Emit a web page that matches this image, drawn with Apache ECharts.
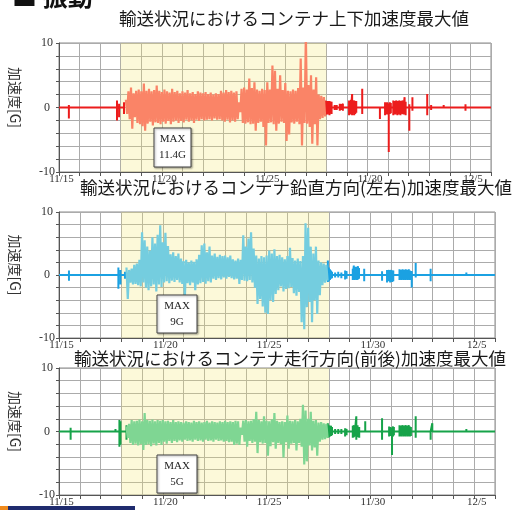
<!DOCTYPE html>
<html><head><meta charset="utf-8">
<script src="https://cdn.jsdelivr.net/npm/echarts@6/dist/echarts.min.js"></script>
<style>html,body{margin:0;padding:0;background:#fff}#c{width:517px;height:510px}</style>
</head><body><div id="c"></div>
<script>
// ---- axis / label data ----
const xTickLabels = ['11/15', '11/20', '11/25', '11/30', '12/5'];
const xLabelEvery = 5;           // days between date labels
const dayMin = 0, dayMax = 21;   // days counted from 11/15
const yTickLabels = [-10, 0, 10];
const yellowSpan = [3, 13];      // highlighted transport period (days)
const headerText = '■ 振動';
const titles = [
  '輸送状況におけるコンテナ上下加速度最大値',
  '輸送状況におけるコンテナ鉛直方向(左右)加速度最大値',
  '輸送状況におけるコンテナ走行方向(前後)加速度最大値'
];
const maxLabels = ['MAX\n11.4G', 'MAX\n9G', 'MAX\n5G'];
const yName = '加速度[G]';

// ---- dense (highlighted) period: max / min per 3-hour bucket ----
const denseStart = 3.25, denseStep = 0.125;
const p1Hi = [1.2,2.5,3.1,2.2,2.6,2.8,2.5,3.7,2.6,2.9, 2.5,2.7,3.4,2.6,2.4,2.8,2.5,2.3,2.9,2.4,
  2.6,2.2,2.5,2.3,2.7,2.2,2.4,2.1,2.5,2.3, 2.2,2.4,2.1,2.3,2.0,2.2,2.1,2.6,2.3,2.7,
  2.4,2.6,2.3,2.5,0.8,2.9,3.1,2.8,4.5,3.0, 3.9,2.8,2.6,2.9,2.7,3.9,2.8,6.5,5.7,2.9,
  5.0,2.7,3.8,2.6,2.5,2.8,2.6,3.0,7.6,3.1, 11.4,3.5,5.0,2.8,4.7,2.0,1.8,1.6];
const p1Lo = [-1.0,-1.8,-3.3,-1.5,-2.4,-2.6,-2.9,-3.6,-2.5,-2.2, -2.8,-2.3,-2.4,-2.6,-2.2,-2.5,-2.1,-2.6,-2.2,-2.0,
  -2.4,-2.1,-2.3,-1.9,-2.2,-2.0,-2.4,-1.9,-2.1,-1.8, -2.0,-1.9,-1.8,-2.0,-1.7,-1.9,-1.8,-2.0,-2.2,-1.9,
  -2.3,-2.0,-2.2,-1.8,-0.7,-2.4,-2.5,-2.3,-2.6,-2.5, -3.6,-2.4,-2.2,-3.0,-5.9,-2.4,-2.3,-2.6,-3.6,-2.5,
  -2.2,-2.4,-5.2,-4.2,-2.3,-2.5,-2.2,-2.6,-5.9,-2.4, -2.5,-3.0,-5.6,-2.6,-5.9,-1.8,-1.6,-1.4];
const p2Hi = [1.2,0.8,1.0,1.6,1.8,2.4,6.8,5.5,4.5,3.9, 6.0,5.0,6.4,7.9,5.2,6.7,4.6,3.3,3.6,3.0,
  3.4,2.6,2.2,2.4,2.0,2.3,2.1,2.5,3.2,4.7, 5.0,3.6,4.5,3.1,3.4,2.9,3.2,3.0,3.1,2.8,
  3.1,2.5,2.3,2.6,2.4,6.3,4.5,5.8,6.8,4.2, 3.1,2.6,3.0,2.8,3.1,3.9,3.4,4.1,3.0,3.2,
  2.8,2.5,3.0,4.3,2.7,2.3,2.6,2.2,3.0,8.2, 7.5,4.5,3.4,4.5,2.3,2.0,1.8,1.6];
const p2Lo = [-3.8,-1.2,-1.5,-1.4,-1.6,-1.8,-1.2,-2.0,-2.4,-1.8, -1.5,-2.6,-1.5,-1.9,-1.2,-1.0,-1.3,-0.9,-1.1,-0.8,
  -1.2,-1.4,-3.5,-1.3,-1.6,-1.2,-2.4,-1.5,-1.3,-1.1, -1.4,-1.0,-1.2,-0.6,-0.8,-0.5,-0.7,-0.4,-0.6,-0.3,
  -0.5,-0.7,-0.6,-1.4,-0.8,-0.9,-1.0,-0.8,-1.2,-2.0, -4.6,-3.8,-5.0,-6.0,-6.2,-4.0,-4.3,-3.0,-2.4,-1.8,
  -2.6,-2.2,-2.1,-1.9,-2.9,-3.3,-2.7,-7.5,-8.6,-5.1, -4.3,-7.5,-4.0,-6.2,-3.2,-1.6,-1.2,-0.9];
const p3Hi = [0.8,1.2,1.8,1.6,1.7,1.9,1.6,2.9,1.8,1.7, 1.9,1.6,1.8,1.7,1.8,1.6,1.7,1.5,1.8,1.5,
  1.6,1.5,1.4,1.6,1.5,1.4,1.7,1.5,1.6,1.4, 1.5,1.7,1.4,1.6,1.5,1.4,1.6,1.5,1.7,1.5,
  1.6,1.5,1.7,1.6,0.6,1.7,1.8,1.6,1.7,1.9, 3.1,1.8,1.6,2.4,1.7,1.6,1.9,2.9,1.7,1.5,
  1.6,1.5,2.5,1.7,1.6,1.8,1.6,2.0,4.2,3.3, 2.0,3.1,1.7,1.8,1.4,1.5,1.3,1.2];
const p3Lo = [-1.0,-1.8,-2.1,-1.9,-2.2,-2.0,-2.9,-2.1,-2.0,-2.3, -1.9,-2.2,-1.8,-2.1,-1.6,-1.9,-1.5,-1.8,-1.5,-1.7,
  -1.4,-1.6,-1.3,-1.5,-1.4,-1.6,-1.3,-1.5,-1.4,-1.6, -1.3,-1.5,-1.4,-1.6,-1.3,-1.5,-1.4,-1.6,-1.5,-1.7,
  -1.6,-2.1,-1.9,-2.1,-0.5,-1.6,-2.4,-1.5,-1.8,-1.6, -3.4,-1.7,-1.9,-1.8,-3.8,-2.3,-1.7,-2.7,-1.8,-2.0,
  -4.1,-1.7,-2.7,-1.9,-1.8,-3.0,-1.8,-2.4,-5.2,-4.7, -2.2,-3.0,-2.5,-3.8,-1.6,-1.3,-1.2,-1.0];

// ---- sparse events outside the dense period: time (day), max, min ----
const p1T = [0.48,2.82,2.92,3.16, 12.95,13.0,13.05,13.1,13.15,13.2,13.25, 13.4,13.5, 13.65,13.72,13.8,
  14.1,14.15,14.2,14.25,14.3,14.35,14.4,14.45, 14.74, 15.6, 15.85,15.9,15.95,16.03,16.08,16.13,
  16.25,16.3,16.35,16.4,16.45,16.5,16.55,16.6,16.65,16.7,16.75,16.8,16.85, 17.03,17.18,17.9,18.09,18.7,19.76];
const p1SHi = [0.4,1.1,0.6,0.8, 1.1,0.9,1.0,0.8,1.0,0.7,0.9, 0.4,0.4, 0.6,0.5,0.6,
  1.1,1.0,1.2,2.1,1.0,1.1,0.9,1.0, 2.9, 0, 0.8,0.7,0.8,0.6,0.8,0.7,
  1.1,0.9,1.0,1.1,0.8,1.0,1.1,0.9,1.0,1.1,0.8,1.6,0.9, 0.5,1.6,2.1,0.4,0.4,0.5];
const p1SLo = [-1.7,-2.0,-1.5,-1.0, -1.2,-1.0,-1.1,-0.9,-1.2,-0.8,-1.0, -0.4,-0.4, -0.5,-0.4,-0.5,
  -1.2,-1.0,-1.1,-1.2,-0.9,-1.2,-1.0,-0.8, -1.0, -1.8, -1.2,-1.0,-1.1,-6.9,-1.0,-0.9,
  -1.2,-1.0,-1.1,-0.9,-1.2,-1.0,-1.1,-1.2,-0.9,-1.0,-1.1,-1.0,-1.2, -3.6,-0.5,-1.2,-0.4,0,-0.5];
const p2T = [0.48,2.86,2.96,3.18, 12.95,13.0,13.05,13.1,13.15, 13.3,13.45,13.6, 13.78,13.85,
  14.15,14.2,14.25,14.3,14.35,14.4,14.45, 14.7, 15.56, 15.8,15.85,15.9,15.95,16.0,16.05,16.1,
  16.4,16.45,16.5,16.55,16.6,16.65,16.7,16.75,16.8,16.85,16.9,16.99, 17.18,17.9,19.62];
const p2SHi = [0.7,1.2,0.8,0.5, 2.3,1.2,0.9,0.7,0.5, 0.4,0.5,0.4, 0.7,0.6,
  1.0,1.5,1.2,1.3,1.0,1.4,1.1, 1.0, 0.6, 0.8,0.6,0.8,0.7,0.8,0.6,0.7,
  0.9,0.7,0.8,0.9,0.7,0.8,0.9,0.7,0.8,0.9,0.7,0.6, 1.9,1.0,0.4];
const p2SLo = [-0.9,-2.2,-1.5,-0.6, -1.1,-1.0,-0.8,-0.6,-0.5, -0.4,-0.4,-0.5, -0.7,-0.6,
  -0.8,-0.7,-0.8,-0.6,-0.8,-0.7,-0.6, -1.0, -0.9, -1.2,-0.9,-1.0,-1.2,-0.9,-1.1,-1.0,
  -0.8,-0.7,-0.8,-0.6,-0.8,-0.7,-0.8,-0.6,-0.8,-0.7,-0.8,-2.0, -0.4,-1.0,0];
const p3T = [0.56,2.72,2.91,2.96,3.25, 12.95,13.0,13.05,13.1,13.15, 13.3,13.45,13.6, 13.78,13.85,
  14.15,14.2,14.25,14.32,14.38,14.46, 14.75, 15.56, 15.9,15.95,16.04,16.09,16.13,
  16.4,16.45,16.5,16.55,16.6,16.65,16.7,16.75,16.8,16.85,16.9,16.95, 17.18,17.9,17.98,19.62];
const p3SHi = [0.6,0.4,1.8,1.6,1.0, 1.3,1.0,0.8,0.9,0.7, 0.4,0.4,0.4, 0.5,0.4,
  0.9,1.0,0.8,2.4,1.0,0.7, 1.6, 2.1, 0.8,0.7,0.6,0.8,0.7,
  1.0,0.8,0.9,1.0,0.8,0.9,1.0,0.8,0.9,1.0,0.8,0.7, 2.4,0,1.3,0.4];
const p3SLo = [-1.3,0,-2.4,-2.1,-1.3, -1.0,-0.9,-0.8,-0.7,-0.6, -0.4,-0.4,-0.4, -0.8,-0.6,
  -1.0,-0.9,-0.8,-1.3,-0.9,-1.0, 0, -1.3, -0.8,-0.7,-3.7,-0.8,-0.6,
  -0.8,-0.7,-0.8,-0.6,-0.8,-0.7,-0.8,-0.6,-0.8,-0.7,-0.8,-0.7, -1.0,-1.3,0,0];

// ---- build helpers ----
function denseLine(hi, lo) {
  const pts = [];
  for (let i = 0; i < hi.length; i++) {
    const t = denseStart + i * denseStep;
    pts.push([t, hi[i]], [t + denseStep / 2, lo[i]]);
  }
  return pts;
}
function sparseLine(t, hi, lo) {
  const mid = (yellowSpan[0] + yellowSpan[1]) / 2;
  const pts = [[dayMin, 0]];
  let broken = false;
  for (let i = 0; i < t.length; i++) {
    if (!broken && t[i] > mid) {
      pts.push([mid, '-']);
      broken = true;
    }
    pts.push([t[i], 0], [t[i], hi[i]], [t[i], lo[i]], [t[i], 0]);
  }
  pts.push([dayMax, 0]);
  return pts;
}

const panels = [
  {grid: {left: 52, top: 43, width: 439, height: 129}, dark: '#ec1c1c', light: '#fa8467',
   hi: p1Hi, lo: p1Lo, t: p1T, shi: p1SHi, slo: p1SLo},
  {grid: {left: 55, top: 212, width: 440, height: 126}, dark: '#1ba1e2', light: '#74cddf',
   hi: p2Hi, lo: p2Lo, t: p2T, shi: p2SHi, slo: p2SLo},
  {grid: {left: 55, top: 368, width: 440, height: 127}, dark: '#16a349', light: '#7fd693',
   hi: p3Hi, lo: p3Lo, t: p3T, shi: p3SHi, slo: p3SLo}
];

const serif = '"Liberation Serif", "DejaVu Serif", serif';
const cjk = '"Noto Sans CJK JP", "Noto Sans", sans-serif';

const grids = [], xAxes = [], yAxes = [], series = [];
panels.forEach((p, k) => {
  grids.push(Object.assign({show: true, borderColor: '#8a8a8a', borderWidth: 1, backgroundColor: 'transparent'}, p.grid));
  xAxes.push({
    type: 'value', gridIndex: k, min: dayMin, max: dayMax, interval: 1,
    axisLine: {show: true, onZero: false, lineStyle: {color: '#555', width: 1}},
    axisTick: {show: true, length: 4, lineStyle: {color: '#555'}},
    axisLabel: {
      fontFamily: serif, fontSize: 11, color: '#333', margin: 2, padding: [0, 0, 0, 5],
      showMinLabel: true, showMaxLabel: true,
      formatter: v => (v % xLabelEvery === 0 ? xTickLabels[v / xLabelEvery] : '')
    },
    splitLine: {show: true, lineStyle: {color: '#ababab', width: 1}}
  });
  yAxes.push({
    type: 'value', gridIndex: k, min: -10, max: 10, interval: 2,
    name: yName, nameLocation: 'middle', nameRotate: -90, nameGap: 37,
    nameTextStyle: {fontFamily: cjk, fontSize: 14, color: '#333', padding: [0, 20, 0, 0]},
    axisLine: {show: true, onZero: false, lineStyle: {color: '#555', width: 1}},
    axisTick: {show: true, length: 3, lineStyle: {color: '#555'}},
    axisLabel: {
      fontFamily: serif, fontSize: 12, color: '#333', margin: 12, align: 'center',
      formatter: v => (yTickLabels.indexOf(v) >= 0 ? String(v) : '')
    },
    splitLine: {show: true, lineStyle: {color: '#ababab', width: 1}}
  });
  series.push({
    type: 'line', xAxisIndex: k, yAxisIndex: k, showSymbol: false, symbol: 'none', silent: true,
    data: sparseLine(p.t, p.shi, p.slo), lineStyle: {color: p.dark, width: 2}, z: 3,
    markArea: {silent: true, itemStyle: {color: 'rgba(245,232,110,0.26)'},
      data: [[{xAxis: yellowSpan[0]}, {xAxis: yellowSpan[1]}]]}
  });
  series.push({
    type: 'line', xAxisIndex: k, yAxisIndex: k, showSymbol: false, symbol: 'none', silent: true,
    data: denseLine(p.hi, p.lo), lineStyle: {color: p.light, width: 2.2}, z: 4
  });
});

const titlePos = [[294, 18], [296, 187], [290, 358]];
const boxes = [[154, 128, 37, 39], [157, 295, 40, 38], [157, 455, 40, 38]];
const graphic = [
  {type: 'text', x: 12, y: -16, style: {text: headerText, font: 'bold 25px ' + cjk, fill: '#111',
    align: 'left', verticalAlign: 'top', textAlign: 'left', textVerticalAlign: 'top'}},
  {type: 'rect', shape: {x: 0, y: 506, width: 8, height: 4}, style: {fill: '#ef8a1c'}},
  {type: 'rect', shape: {x: 8, y: 506, width: 127, height: 4}, style: {fill: '#1f2b6e'}}
];
titles.forEach((t, k) => {
  graphic.push({type: 'text', x: titlePos[k][0], y: titlePos[k][1], z: 10,
    style: {text: t, font: '17.5px ' + cjk, fill: '#1a1a1a',
      align: 'center', verticalAlign: 'middle', textAlign: 'center', textVerticalAlign: 'middle'}});
});
boxes.forEach((b, k) => {
  graphic.push({type: 'rect', z: 10, shape: {x: b[0], y: b[1], width: b[2], height: b[3]},
    style: {fill: '#fff', stroke: '#444', lineWidth: 1, shadowBlur: 2, shadowOffsetX: 1, shadowOffsetY: 1, shadowColor: 'rgba(0,0,0,0.35)'}});
  graphic.push({type: 'text', z: 11, x: b[0] + b[2] / 2, y: b[1] + b[3] / 2,
    style: {text: maxLabels[k], font: '11px ' + serif, fill: '#222', lineHeight: 16,
      align: 'center', verticalAlign: 'middle', textAlign: 'center', textVerticalAlign: 'middle'}});
});

const chart = echarts.init(document.getElementById('c'), null, {renderer: 'canvas'});
chart.setOption({
  animation: false,
  backgroundColor: '#fff',
  grid: grids, xAxis: xAxes, yAxis: yAxes, series: series,
  graphic: graphic
});
</script></body></html>
